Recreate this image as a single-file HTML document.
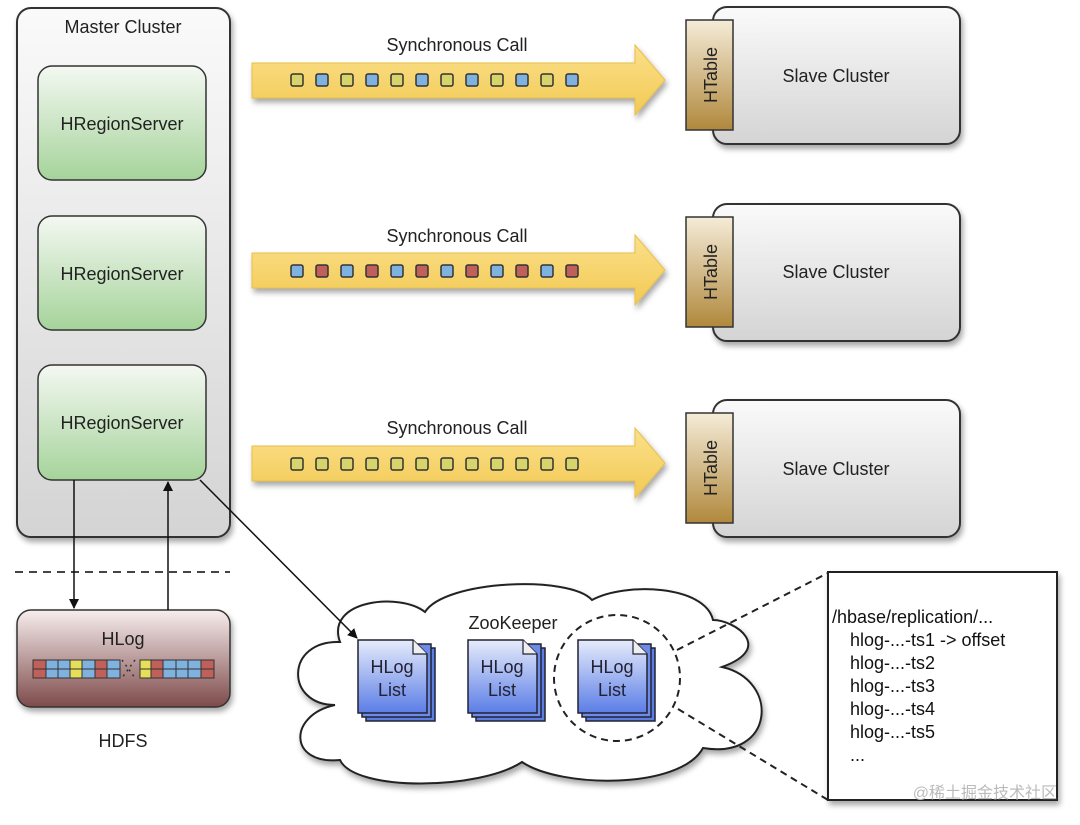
<!DOCTYPE html>
<html><head><meta charset="utf-8"><style>
html,body{margin:0;padding:0;background:#fff;}
svg{display:block;font-family:"Liberation Sans",Arial,sans-serif;}
</style></head><body>
<svg width="1080" height="825" viewBox="0 0 1080 825" xmlns="http://www.w3.org/2000/svg">
<defs>
<linearGradient id="gray" x1="0" y1="0" x2="0" y2="1"><stop offset="0" stop-color="#fafafa"/><stop offset="1" stop-color="#d4d4d4"/></linearGradient>
<linearGradient id="green" x1="0" y1="0" x2="0" y2="1"><stop offset="0" stop-color="#f4f8f2"/><stop offset="1" stop-color="#a5d39a"/></linearGradient>
<linearGradient id="maroon" x1="0" y1="0" x2="0" y2="1"><stop offset="0" stop-color="#f7eeee"/><stop offset="1" stop-color="#7e4a4a"/></linearGradient>
<linearGradient id="gold" x1="0" y1="0" x2="0" y2="1"><stop offset="0" stop-color="#f5ecd8"/><stop offset="1" stop-color="#b0883c"/></linearGradient>
<linearGradient id="blue" x1="0" y1="0" x2="0" y2="1"><stop offset="0" stop-color="#e6ecfb"/><stop offset="1" stop-color="#5b7de6"/></linearGradient>
<linearGradient id="yel" x1="0" y1="0" x2="0" y2="1"><stop offset="0" stop-color="#fbe08a"/><stop offset="1" stop-color="#f2c954"/></linearGradient>
<filter id="sh" x="-10%" y="-10%" width="130%" height="130%"><feDropShadow dx="2" dy="4" stdDeviation="3" flood-color="#000" flood-opacity="0.35"/></filter>
<marker id="ah" markerWidth="10" markerHeight="10" refX="9" refY="5" orient="auto" markerUnits="userSpaceOnUse"><path d="M0,0 L10,5 L0,10 Z" fill="#111"/></marker>
<g id="doc">
<rect x="8" y="8" width="69" height="73" fill="#5b7de6" stroke="#223" stroke-width="1.5"/>
<rect x="4" y="4" width="69" height="73" fill="#6d8ce8" stroke="#223" stroke-width="1.5"/>
<path d="M0,0 H55 L69,14 V73 H0 Z" fill="url(#blue)" stroke="#223" stroke-width="1.5"/>
<path d="M55,0 V14 H69" fill="#eee" stroke="#223" stroke-width="1.2"/>
<text x="34" y="33" font-size="18" text-anchor="middle" fill="#223">HLog</text>
<text x="34" y="56" font-size="18" text-anchor="middle" fill="#223">List</text>
</g>
</defs>

<rect x="17" y="8" width="213" height="529" rx="14" fill="url(#gray)" stroke="#333" stroke-width="2" filter="url(#sh)"/>
<text x="123" y="33" font-size="18" text-anchor="middle" fill="#222">Master Cluster</text>
<g font-size="18" fill="#222" text-anchor="middle">
<rect x="38" y="66" width="168" height="114" rx="14" fill="url(#green)" stroke="#333" stroke-width="1.5"/>
<text x="122" y="130">HRegionServer</text>
<rect x="38" y="216" width="168" height="114" rx="14" fill="url(#green)" stroke="#333" stroke-width="1.5"/>
<text x="122" y="280">HRegionServer</text>
<rect x="38" y="365" width="168" height="115" rx="14" fill="url(#green)" stroke="#333" stroke-width="1.5"/>
<text x="122" y="429">HRegionServer</text>
</g>

<path d="M252,63 H635 V45 L665,80 L635,115 V98 H252 Z" fill="url(#yel)" stroke="#e8c04a" stroke-width="1" filter="url(#sh)"/>
<path d="M252,253 H635 V235 L665,270 L635,305 V288 H252 Z" fill="url(#yel)" stroke="#e8c04a" stroke-width="1" filter="url(#sh)"/>
<path d="M252,446 H635 V428 L665,463 L635,498 V481 H252 Z" fill="url(#yel)" stroke="#e8c04a" stroke-width="1" filter="url(#sh)"/>
<g font-size="18" fill="#222" text-anchor="middle">
<text x="457" y="51">Synchronous Call</text>
<text x="457" y="242">Synchronous Call</text>
<text x="457" y="434">Synchronous Call</text>
</g>
<g stroke="#333" stroke-width="1.5">
<rect x="291" y="74" width="12" height="12" rx="2" fill="#d6d46a"/><rect x="316" y="74" width="12" height="12" rx="2" fill="#7fb2df"/><rect x="341" y="74" width="12" height="12" rx="2" fill="#d6d46a"/><rect x="366" y="74" width="12" height="12" rx="2" fill="#7fb2df"/><rect x="391" y="74" width="12" height="12" rx="2" fill="#d6d46a"/><rect x="416" y="74" width="12" height="12" rx="2" fill="#7fb2df"/><rect x="441" y="74" width="12" height="12" rx="2" fill="#d6d46a"/><rect x="466" y="74" width="12" height="12" rx="2" fill="#7fb2df"/><rect x="491" y="74" width="12" height="12" rx="2" fill="#d6d46a"/><rect x="516" y="74" width="12" height="12" rx="2" fill="#7fb2df"/><rect x="541" y="74" width="12" height="12" rx="2" fill="#d6d46a"/><rect x="566" y="74" width="12" height="12" rx="2" fill="#7fb2df"/>
<rect x="291" y="265" width="12" height="12" rx="2" fill="#7fb2df"/><rect x="316" y="265" width="12" height="12" rx="2" fill="#c0605a"/><rect x="341" y="265" width="12" height="12" rx="2" fill="#7fb2df"/><rect x="366" y="265" width="12" height="12" rx="2" fill="#c0605a"/><rect x="391" y="265" width="12" height="12" rx="2" fill="#7fb2df"/><rect x="416" y="265" width="12" height="12" rx="2" fill="#c0605a"/><rect x="441" y="265" width="12" height="12" rx="2" fill="#7fb2df"/><rect x="466" y="265" width="12" height="12" rx="2" fill="#c0605a"/><rect x="491" y="265" width="12" height="12" rx="2" fill="#7fb2df"/><rect x="516" y="265" width="12" height="12" rx="2" fill="#c0605a"/><rect x="541" y="265" width="12" height="12" rx="2" fill="#7fb2df"/><rect x="566" y="265" width="12" height="12" rx="2" fill="#c0605a"/>
<rect x="291" y="458" width="12" height="12" rx="2" fill="#d6d46a"/><rect x="316" y="458" width="12" height="12" rx="2" fill="#d6d46a"/><rect x="341" y="458" width="12" height="12" rx="2" fill="#d6d46a"/><rect x="366" y="458" width="12" height="12" rx="2" fill="#d6d46a"/><rect x="391" y="458" width="12" height="12" rx="2" fill="#d6d46a"/><rect x="416" y="458" width="12" height="12" rx="2" fill="#d6d46a"/><rect x="441" y="458" width="12" height="12" rx="2" fill="#d6d46a"/><rect x="466" y="458" width="12" height="12" rx="2" fill="#d6d46a"/><rect x="491" y="458" width="12" height="12" rx="2" fill="#d6d46a"/><rect x="516" y="458" width="12" height="12" rx="2" fill="#d6d46a"/><rect x="541" y="458" width="12" height="12" rx="2" fill="#d6d46a"/><rect x="566" y="458" width="12" height="12" rx="2" fill="#d6d46a"/>
</g>

<g font-size="18" fill="#222">
<rect x="713" y="7" width="247" height="137" rx="14" fill="url(#gray)" stroke="#333" stroke-width="2" filter="url(#sh)"/>
<rect x="686" y="20" width="47" height="110" fill="url(#gold)" stroke="#333" stroke-width="1.5"/>
<text x="836" y="82" text-anchor="middle">Slave Cluster</text>
<text transform="translate(717,75) rotate(-90)" text-anchor="middle">HTable</text>
<rect x="713" y="204" width="247" height="137" rx="14" fill="url(#gray)" stroke="#333" stroke-width="2" filter="url(#sh)"/>
<rect x="686" y="217" width="47" height="110" fill="url(#gold)" stroke="#333" stroke-width="1.5"/>
<text x="836" y="278" text-anchor="middle">Slave Cluster</text>
<text transform="translate(717,272) rotate(-90)" text-anchor="middle">HTable</text>
<rect x="713" y="400" width="247" height="137" rx="14" fill="url(#gray)" stroke="#333" stroke-width="2" filter="url(#sh)"/>
<rect x="686" y="413" width="47" height="110" fill="url(#gold)" stroke="#333" stroke-width="1.5"/>
<text x="836" y="475" text-anchor="middle">Slave Cluster</text>
<text transform="translate(717,468) rotate(-90)" text-anchor="middle">HTable</text>
</g>

<line x1="15" y1="572" x2="230" y2="572" stroke="#444" stroke-width="2" stroke-dasharray="8,6"/>

<rect x="17" y="610" width="213" height="97" rx="14" fill="url(#maroon)" stroke="#333" stroke-width="1.5" filter="url(#sh)"/>
<text x="123" y="645" font-size="18" text-anchor="middle" fill="#222">HLog</text>
<g stroke="#333" stroke-width="1">
<rect x="33" y="660" width="13" height="9" fill="#c0605a"/><rect x="33" y="669" width="13" height="9" fill="#c0605a"/>
<rect x="46" y="660" width="12" height="9" fill="#7fb2df"/><rect x="46" y="669" width="12" height="9" fill="#7fb2df"/>
<rect x="58" y="660" width="12" height="9" fill="#7fb2df"/><rect x="58" y="669" width="12" height="9" fill="#7fb2df"/>
<rect x="70" y="660" width="12" height="9" fill="#e6df5a"/><rect x="70" y="669" width="12" height="9" fill="#e6df5a"/>
<rect x="82" y="660" width="13" height="9" fill="#7fb2df"/><rect x="82" y="669" width="13" height="9" fill="#7fb2df"/>
<rect x="95" y="660" width="12" height="9" fill="#c0605a"/><rect x="95" y="669" width="12" height="9" fill="#c0605a"/>
<rect x="107" y="660" width="13" height="9" fill="#7fb2df"/><rect x="107" y="669" width="13" height="9" fill="#7fb2df"/>
<rect x="140" y="660" width="11" height="9" fill="#e6df5a"/><rect x="140" y="669" width="11" height="9" fill="#e6df5a"/>
<rect x="151" y="660" width="12" height="9" fill="#c0605a"/><rect x="151" y="669" width="12" height="9" fill="#c0605a"/>
<rect x="163" y="660" width="13" height="9" fill="#7fb2df"/><rect x="163" y="669" width="13" height="9" fill="#7fb2df"/>
<rect x="176" y="660" width="12" height="9" fill="#7fb2df"/><rect x="176" y="669" width="12" height="9" fill="#7fb2df"/>
<rect x="188" y="660" width="13" height="9" fill="#7fb2df"/><rect x="188" y="669" width="13" height="9" fill="#7fb2df"/>
<rect x="201" y="660" width="13" height="9" fill="#c0605a"/><rect x="201" y="669" width="13" height="9" fill="#c0605a"/>
</g>
<line x1="122" y1="660" x2="135" y2="678" stroke="#333" stroke-width="1.5" stroke-dasharray="2,4"/>
<line x1="135" y1="660" x2="122" y2="678" stroke="#333" stroke-width="1.5" stroke-dasharray="2,4"/>
<text x="123" y="747" font-size="18" text-anchor="middle" fill="#222">HDFS</text>

<line x1="74" y1="480" x2="74" y2="608" stroke="#111" stroke-width="1.5" marker-end="url(#ah)"/>
<line x1="168" y1="610" x2="168" y2="482" stroke="#111" stroke-width="1.5" marker-end="url(#ah)"/>

<path d="M335,705 C285,705 285,640 340,642 C325,600 400,592 425,612 C445,580 570,575 592,600 C625,582 705,585 713,620 C735,620 775,648 722,667 C780,680 775,760 703,748 C680,790 560,788 522,762 C480,790 355,792 340,760 C288,765 288,715 335,705 Z" fill="#fff" stroke="#222" stroke-width="2" filter="url(#sh)"/>
<text x="513" y="629" font-size="18" text-anchor="middle" fill="#222">ZooKeeper</text>
<use href="#doc" x="358" y="640"/>
<use href="#doc" x="468" y="640"/>
<use href="#doc" x="578" y="640"/>
<line x1="200" y1="480" x2="357" y2="638" stroke="#111" stroke-width="1.5" marker-end="url(#ah)"/>
<circle cx="617" cy="678" r="63" fill="none" stroke="#222" stroke-width="2" stroke-dasharray="7,5"/>
<line x1="677" y1="650" x2="828" y2="573" stroke="#222" stroke-width="2" stroke-dasharray="7,5"/>
<line x1="678" y1="709" x2="828" y2="800" stroke="#222" stroke-width="2" stroke-dasharray="7,5"/>

<rect x="828" y="572" width="229" height="228" fill="#fff" stroke="#222" stroke-width="2" filter="url(#sh)"/>
<g font-size="18" fill="#111">
<text x="832" y="623">/hbase/replication/...</text>
<text x="850" y="646">hlog-...-ts1 -&gt; offset</text>
<text x="850" y="669">hlog-...-ts2</text>
<text x="850" y="692">hlog-...-ts3</text>
<text x="850" y="715">hlog-...-ts4</text>
<text x="850" y="738">hlog-...-ts5</text>
<text x="850" y="761">...</text>
</g>
<text x="1057" y="798" font-size="16" text-anchor="end" fill="#bbb" font-family="'Liberation Sans','Noto Sans CJK SC',sans-serif">@稀土掘金技术社区</text>
</svg>
</body></html>
